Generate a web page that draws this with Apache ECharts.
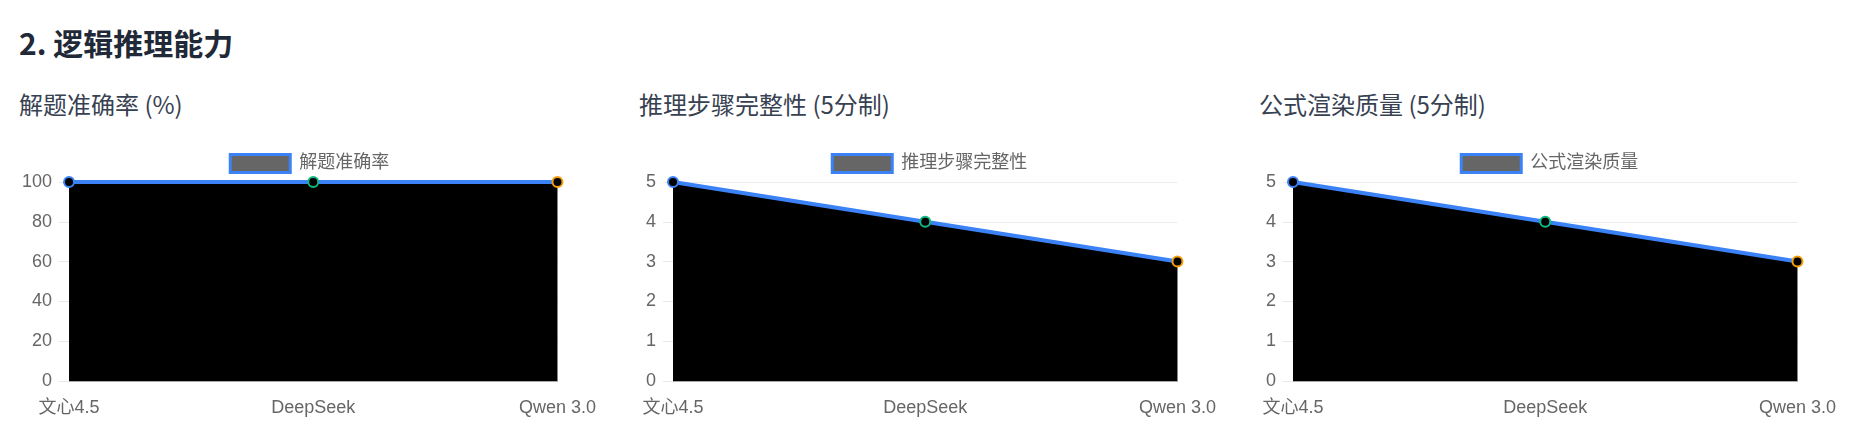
<!DOCTYPE html>
<html>
<head>
<meta charset="utf-8">
<script src="https://cdn.jsdelivr.net/npm/echarts@6/dist/echarts.min.js"></script>
<style>
  html, body { margin: 0; padding: 0; background: #fff; }
  body { width: 1864px; height: 445px; position: relative; overflow: hidden; font-family: "Noto Sans CJK SC", "Noto Sans", sans-serif; }
  .heading { position: absolute; left: 19px; top: 27px; font-size: 30px; line-height: 30px; font-weight: bold; color: #1f2937; white-space: nowrap; }
  .sub { position: absolute; top: 92px; font-size: 24px; line-height: 24px; color: #374151; white-space: nowrap; }
  .chart { position: absolute; top: 135px; width: 580px; height: 300px; }
</style>
</head>
<body>
<div class="heading">2. 逻辑推理能力</div>
<div class="sub" style="left:19px">解题准确率 (%)</div>
<div class="sub" style="left:639px">推理步骤完整性 (5分制)</div>
<div class="sub" style="left:1259px">公式渲染质量 (5分制)</div>
<div class="chart" id="c1" style="left:19px"></div>
<div class="chart" id="c2" style="left:639px"></div>
<div class="chart" id="c3" style="left:1259px"></div>
<script>
// 模型
var models = ["文心4.5", "DeepSeek", "Qwen 3.0"];
// 各指标数值
var accuracy = [100, 100, 100];
var stepScore = [5, 4, 3];
var formulaScore = [5, 4, 3];
// 点的描边色
var pointColors = ["#3b82f6", "#10b981", "#f59e0b"];

var labelFont = "'Liberation Sans', Arial, 'Noto Sans CJK SC', sans-serif";

function crtLineOpt(o) {
  return {
    animation: false,
    legend: {
      top: 13,
      left: "center",
      icon: "rect",
      itemWidth: 60,
      itemHeight: 18,
      itemStyle: { color: "#666", borderColor: "#3b82f6", borderWidth: 3 },
      textStyle: { color: "#666", fontSize: 18, fontFamily: labelFont, padding: [0, 0, 0, 4] },
      data: [o.name]
    },
    grid: { left: o.left, right: 40, top: 47, bottom: 54 },
    xAxis: {
      type: "category",
      boundaryGap: false,
      data: models,
      axisTick: { show: false },
      axisLine: { lineStyle: { color: "#aaa", width: 1 } },
      axisLabel: { color: "#666", fontSize: 18, fontFamily: labelFont, margin: 18 },
      splitLine: { show: false }
    },
    yAxis: {
      type: "value",
      min: 0,
      max: o.max,
      interval: o.interval,
      axisLine: { show: false },
      axisTick: { show: true, length: 10, lineStyle: { color: "#e8e8e8" } },
      axisLabel: { color: "#666", fontSize: 18, fontFamily: labelFont, margin: 17 },
      splitLine: { lineStyle: { color: "#ececec", width: 1 } }
    },
    series: [{
      name: o.name,
      type: "line",
      data: o.data.map(function (v, i) {
        return { value: v, itemStyle: { borderColor: pointColors[i] } };
      }),
      symbol: "circle",
      symbolSize: 10,
      lineStyle: { color: "#3b82f6", width: 4 },
      itemStyle: { color: "#000", borderWidth: 2 },
      areaStyle: { color: "#000", opacity: 1 }
    }]
  };
}

var charts = [
  { id: "c1", name: "解题准确率", data: accuracy, max: 100, interval: 20, left: 50 },
  { id: "c2", name: "推理步骤完整性", data: stepScore, max: 5, interval: 1, left: 34 },
  { id: "c3", name: "公式渲染质量", data: formulaScore, max: 5, interval: 1, left: 34 }
];
charts.forEach(function (c) {
  var chart = echarts.init(document.getElementById(c.id));
  chart.setOption(crtLineOpt(c));
});
</script>
</body>
</html>
